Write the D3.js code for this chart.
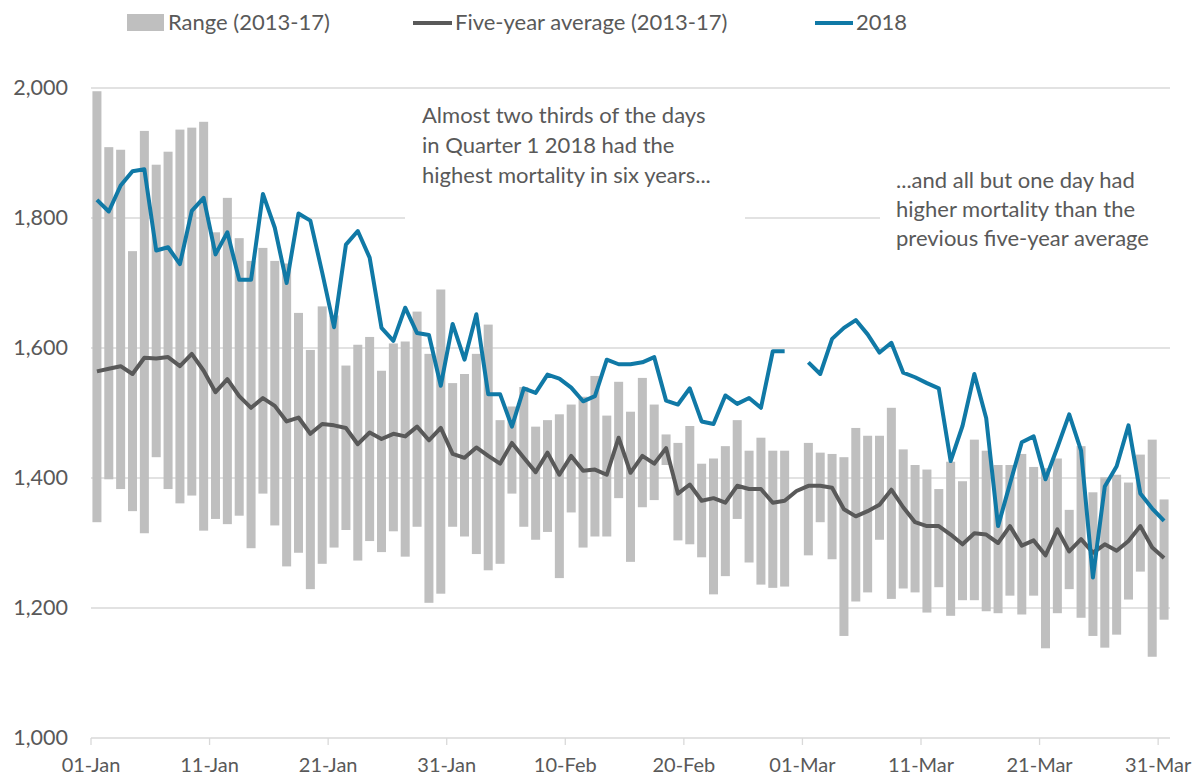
<!DOCTYPE html>
<html>
<head>
<meta charset="utf-8">
<script src="https://cdn.jsdelivr.net/npm/d3@7"></script>
<style>
  body { margin: 0; background: #fff; }
  text { font-family: Lato, "Noto Sans", sans-serif; fill: #595959; }
</style>
</head>
<body>
<script>
// Q1 daily deaths, 2013-17 range and average vs 2018 (29-Feb kept as a category)
var days = d3.timeDays(new Date(2016, 0, 1), new Date(2016, 3, 1)).map(d3.timeFormat("%d-%b"));

var rangeMax = [1995,1909,1905,1749,1934,1882,1902,1936,1939,1948,
  1778,1831,1769,1734,1754,1734,1730,1654,1597,1664,
  1650,1573,1605,1617,1565,1607,1610,1656,1591,1690,
  1546,1560,1591,1636,1489,1510,1540,1479,1489,1498,
  1513,1525,1557,1496,1548,1502,1554,1513,1467,1454,
  1480,1422,1430,1449,1489,1442,1462,1442,1442,null,
  1454,1439,1437,1432,1477,1465,1465,1508,1444,1420,
  1413,1383,1425,1395,1459,1442,1420,1420,1437,1417,
  1415,1430,1351,1449,1378,1401,1405,1393,1436,1459,1367];

var rangeMin = [1332,1398,1383,1349,1315,1432,1383,1361,1373,1319,
  1337,1329,1342,1292,1376,1327,1264,1285,1229,1268,
  1293,1320,1273,1303,1286,1318,1279,1325,1208,1222,
  1325,1310,1283,1258,1268,1376,1325,1305,1317,1246,
  1347,1293,1310,1310,1369,1271,1355,1366,1420,1304,
  1298,1278,1221,1249,1337,1270,1236,1231,1233,null,
  1281,1332,1275,1157,1210,1224,1305,1214,1230,1224,
  1193,1232,1188,1212,1212,1195,1192,1219,1190,1219,
  1138,1192,1229,1185,1157,1139,1159,1213,1256,1125,1182];

var average = [1564,1568,1572,1560,1585,1584,1586,1572,1591,1565,
  1532,1552,1526,1508,1523,1511,1487,1493,1468,1483,
  1481,1477,1452,1470,1460,1468,1464,1479,1458,1477,
  1437,1431,1447,1434,1422,1454,1431,1409,1439,1405,
  1434,1411,1413,1405,1462,1408,1434,1422,1446,1376,
  1390,1365,1369,1362,1388,1383,1383,1362,1365,1380,
  1388,1388,1385,1352,1341,1349,1359,1382,1355,1332,
  1326,1326,1313,1298,1315,1313,1300,1326,1296,1304,
  1281,1321,1287,1306,1285,1298,1288,1303,1326,1293,1277];

var deaths2018 = [1828,1810,1850,1872,1875,1750,1755,1729,1811,1831,
  1744,1778,1705,1705,1837,1785,1700,1807,1796,1716,
  1632,1759,1780,1739,1631,1611,1662,1623,1620,1542,
  1637,1582,1652,1529,1529,1479,1538,1531,1559,1553,
  1539,1518,1526,1582,1575,1575,1578,1586,1519,1513,
  1538,1487,1483,1527,1514,1523,1508,1595,1595,null,
  1578,1560,1614,1631,1643,1621,1593,1608,1562,1555,
  1546,1538,1426,1480,1560,1492,1326,1391,1455,1464,
  1398,1447,1498,1442,1247,1387,1418,1481,1376,1353,1334];

var yTicks = [1000, 1200, 1400, 1600, 1800, 2000];
var tickDays = days.filter(function(d, i) { return i % 10 === 0; });

var legendItems = ["Range (2013-17)", "Five-year average (2013-17)", "2018"];
var note1 = ["Almost two thirds of the days", "in Quarter 1 2018 had the", "highest mortality in six years..."];
var note2 = ["...and all but one day had", "higher mortality than the", "previous five-year average"];

var barColor = "#bfbfbf", avgColor = "#595959", lineColor = "#1079a6", gridColor = "#d9d9d9";

var width = 1202, height = 778;
var plot = {left: 91, right: 1170, top: 88, bottom: 738};

var svg = d3.select("body").append("svg")
    .attr("width", width)
    .attr("height", height);

var x = d3.scaleBand()
    .domain(days)
    .range([plot.left, plot.right])
    .paddingInner(0.24)
    .paddingOuter(0.12);

var step = x.step();
var cx = function(i) { return x(days[i]) + x.bandwidth() / 2; };

var y = d3.scaleLinear()
    .domain([1000, 2000])
    .range([plot.bottom, plot.top]);

// gridlines
svg.append("g")
    .selectAll("line")
    .data(yTicks.slice(1))
    .enter()
    .append("line")
    .attr("x1", plot.left)
    .attr("x2", plot.right)
    .attr("y1", function(d) { return y(d); })
    .attr("y2", function(d) { return y(d); })
    .attr("stroke", gridColor)
    .attr("stroke-width", 1.3);

// y axis labels
var yAxis = d3.axisLeft(y).tickValues(yTicks).tickFormat(d3.format(",")).tickSize(0).tickPadding(0);
var yAxisGroup = svg.append("g")
    .attr("transform", "translate(68,0)")
    .call(yAxis);
yAxisGroup.select(".domain").remove();
yAxisGroup.selectAll("text")
    .attr("font-size", "21.5px")
    .attr("font-family", null)
    .attr("fill", "#595959");

// x axis: ticks and labels sit at the start of every 10th day
var xAxis = d3.axisBottom(x).tickValues(tickDays).tickSize(7).tickPadding(13);
var xAxisGroup = svg.append("g")
    .attr("transform", "translate(" + (-step / 2) + "," + plot.bottom + ")")
    .call(xAxis);
xAxisGroup.select(".domain").remove();
xAxisGroup.selectAll("line").attr("stroke", gridColor).attr("stroke-width", 1.3);
xAxisGroup.selectAll("text")
    .attr("font-size", "20px")
    .attr("font-family", null)
    .attr("fill", "#595959");

svg.append("line")
    .attr("x1", plot.left)
    .attr("x2", plot.right)
    .attr("y1", plot.bottom)
    .attr("y2", plot.bottom)
    .attr("stroke", gridColor)
    .attr("stroke-width", 1.3);

// range bars
svg.append("g")
    .selectAll("rect")
    .data(days.map(function(d, i) { return {day: d, lo: rangeMin[i], hi: rangeMax[i]}; })
        .filter(function(d) { return d.lo != null; }))
    .enter()
    .append("rect")
    .attr("fill", barColor)
    .attr("x", function(d) { return x(d.day); })
    .attr("width", x.bandwidth())
    .attr("y", function(d) { return y(d.hi); })
    .attr("height", function(d) { return y(d.lo) - y(d.hi); });

var line = d3.line()
    .defined(function(d) { return d != null; })
    .x(function(d, i) { return cx(i); })
    .y(function(d) { return y(d); });

svg.append("path")
    .datum(average)
    .attr("fill", "none")
    .attr("stroke", avgColor)
    .attr("stroke-width", 4)
    .attr("stroke-linejoin", "round")
    .attr("d", line);

svg.append("path")
    .datum(deaths2018)
    .attr("fill", "none")
    .attr("stroke", lineColor)
    .attr("stroke-width", 4)
    .attr("stroke-linejoin", "round")
    .attr("d", line);

// text boxes with white fill hide the 1,800 gridline
function note(lines, bx, by, bw, bh, tx, ty, lh) {
    svg.append("rect")
        .attr("x", bx).attr("y", by)
        .attr("width", bw).attr("height", bh)
        .attr("fill", "#fff");
    svg.append("g")
        .selectAll("text")
        .data(lines)
        .enter()
        .append("text")
        .attr("x", tx)
        .attr("y", function(d, i) { return ty + i * lh; })
        .attr("font-size", "22px")
        .text(function(d) { return d; });
}
note(note1, 405, 95, 340, 130, 422, 123, 30);
note(note2, 880, 160, 300, 95, 896, 188, 29);

// legend
var legend = svg.append("g");
legend.append("rect")
    .attr("x", 127).attr("y", 14)
    .attr("width", 37).attr("height", 17)
    .attr("fill", barColor);
legend.append("line")
    .attr("x1", 413).attr("x2", 452)
    .attr("y1", 23).attr("y2", 23)
    .attr("stroke", avgColor).attr("stroke-width", 4);
legend.append("line")
    .attr("x1", 815).attr("x2", 853)
    .attr("y1", 23).attr("y2", 23)
    .attr("stroke", lineColor).attr("stroke-width", 4);
legend.selectAll("text")
    .data(legendItems)
    .enter()
    .append("text")
    .attr("x", function(d, i) { return [168, 455, 856][i]; })
    .attr("y", 30)
    .attr("font-size", "22px")
    .text(function(d) { return d; });
</script>
</body>
</html>
